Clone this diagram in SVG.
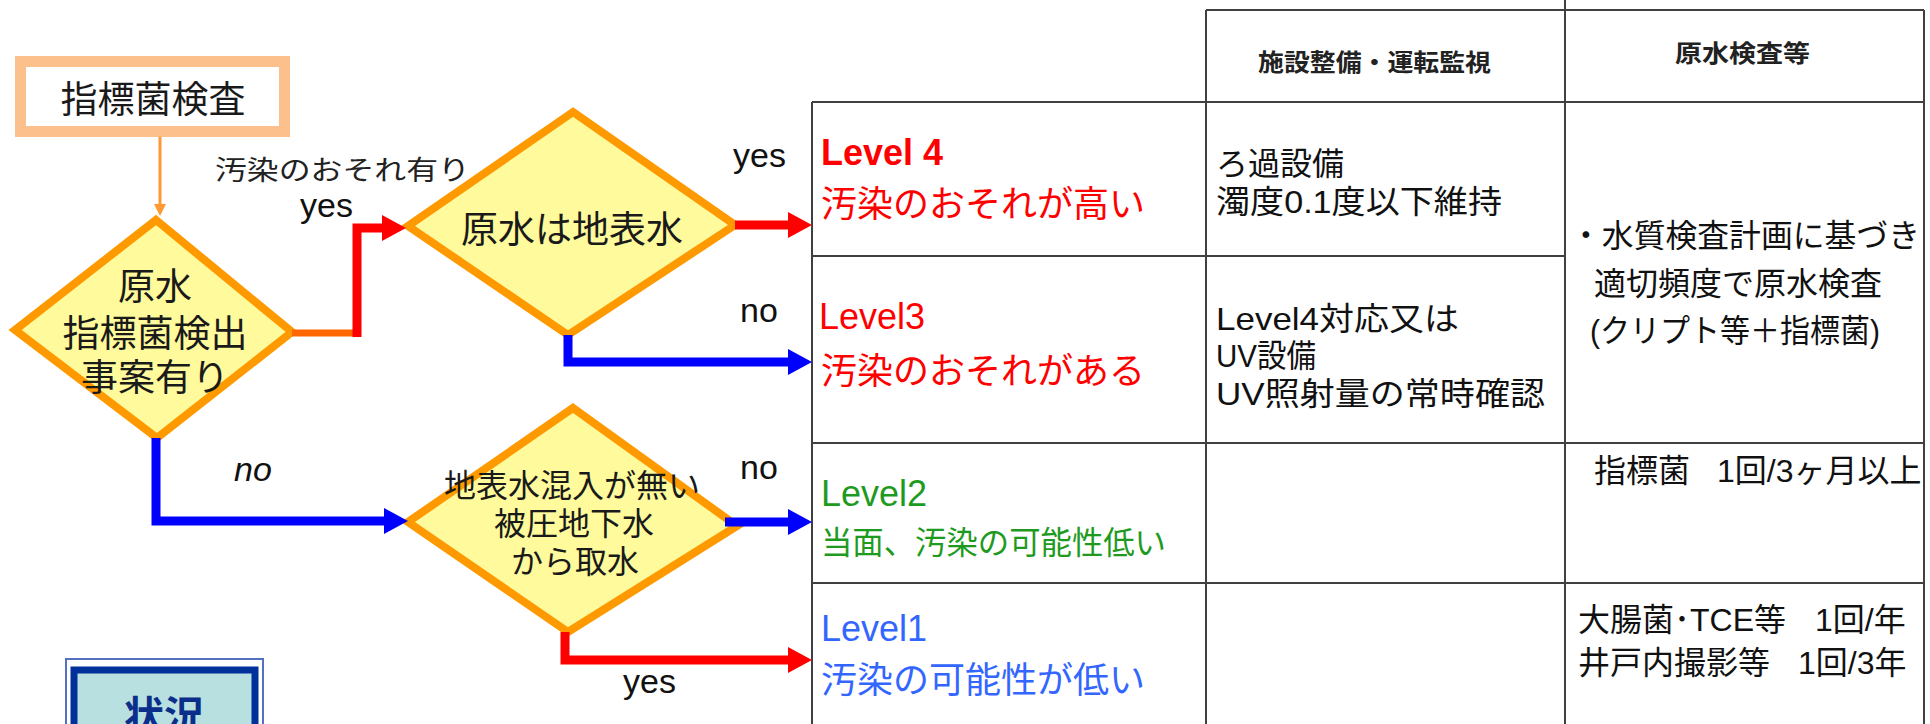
<svg xmlns="http://www.w3.org/2000/svg" width="1930" height="724" viewBox="0 0 1930 724">
<style>
  text { font-family: "Liberation Sans", "Noto Sans CJK JP", sans-serif; }
  .dia { fill: #FFFA9C; stroke: #FF9900; stroke-width: 8; stroke-linejoin: miter; }
  .dt { font-size: 37px; fill: #1a1a1a; text-anchor: middle; }
  .dt3 { font-size: 32px; fill: #1a1a1a; text-anchor: middle; }
  .lbl { font-size: 34px; fill: #111; }
  .grid { stroke: #404040; stroke-width: 2; fill: none; }
  .hd { font-size: 24px; font-weight: bold; fill: #222; }
  .cell { font-size: 32px; fill: #111; }
  .lv { font-size: 36px; }
  .red { fill: #FF0000; }
  .green { fill: #1E9B1E; }
  .blue { fill: #3366FF; }
  .cr { stroke: #FF0000; stroke-width: 9; fill: none; }
  .cb { stroke: #0000FF; stroke-width: 9; fill: none; }
</style>
<defs>
  <marker id="ar" markerUnits="userSpaceOnUse" markerWidth="24" markerHeight="26" refX="2" refY="13" orient="auto"><path d="M0,0 L24,13 L0,26 z" fill="#FF0000"/></marker>
  <marker id="ab" markerUnits="userSpaceOnUse" markerWidth="24" markerHeight="26" refX="2" refY="13" orient="auto"><path d="M0,0 L24,13 L0,26 z" fill="#0000FF"/></marker>
  <marker id="ao" markerUnits="userSpaceOnUse" markerWidth="12" markerHeight="12" refX="2" refY="6" orient="auto"><path d="M0,0 L12,6 L0,12 z" fill="#FF9933"/></marker>
</defs>

<g id="table">
  <path class="grid" d="M812,102 V724 M1206,10 V724 M1565,0 V724 M1924,10 V724 M1206,10 H1924 M812,102 H1924 M812,256 H1565 M812,443 H1924 M812,583 H1924"/>
  <text class="hd" x="1258" y="71" textLength="233" lengthAdjust="spacingAndGlyphs">施設整備・運転監視</text>
  <text class="hd" x="1675" y="62" textLength="135" lengthAdjust="spacingAndGlyphs">原水検査等</text>
</g>

<g id="level4">
  <text class="lv red" x="821" y="165" font-weight="bold">Level 4</text>
  <text class="lv red" x="821" y="217">汚染のおそれが高い</text>
</g>
<g id="level3">
  <text class="lv red" x="819" y="329">Level3</text>
  <text class="lv red" x="821" y="384">汚染のおそれがある</text>
</g>
<g id="level2">
  <text class="lv green" x="821" y="506">Level2</text>
  <text class="green" font-size="32" x="821" y="554" textLength="345" lengthAdjust="spacingAndGlyphs">当面、汚染の可能性低い</text>
</g>
<g id="level1">
  <text class="lv blue" x="821" y="641">Level1</text>
  <text class="lv blue" x="821" y="693">汚染の可能性が低い</text>
</g>

<g id="facility">
  <text class="cell" x="1216" y="175">ろ過設備</text>
  <text class="cell" x="1216" y="213" textLength="286" lengthAdjust="spacingAndGlyphs">濁度0.1度以下維持</text>
  <text class="cell" x="1216" y="330" textLength="243" lengthAdjust="spacingAndGlyphs">Level4対応又は</text>
  <text class="cell" x="1216" y="367" textLength="100" lengthAdjust="spacingAndGlyphs">UV設備</text>
  <text class="cell" x="1216" y="405" textLength="329" lengthAdjust="spacingAndGlyphs">UV照射量の常時確認</text>
</g>

<g id="inspection">
  <text class="cell" x="1570" y="247" textLength="350" lengthAdjust="spacingAndGlyphs">・水質検査計画に基づき</text>
  <text class="cell" x="1594" y="295">適切頻度で原水検査</text>
  <text class="cell" x="1590" y="342" textLength="290" lengthAdjust="spacingAndGlyphs">(クリプト等＋指標菌)</text>
  <text class="cell" font-size="31" x="1594" y="482">指標菌<tspan x="1717">1回/3ヶ月以上</tspan></text>
  <text class="cell" font-size="31" x="1578" y="631">大腸菌･TCE等<tspan x="1815">1回/年</tspan></text>
  <text class="cell" font-size="31" x="1578" y="674">井戸内撮影等<tspan x="1798">1回/3年</tspan></text>
</g>

<g id="start">
  <rect x="20.5" y="61.5" width="264" height="70" fill="#FFFFFF" stroke="#FBC08C" stroke-width="11"/>
  <text x="153" y="113" font-size="37" fill="#1a1a1a" text-anchor="middle">指標菌検査</text>
</g>

<g id="d1">
  <polygon class="dia" points="156,220 292,332 157,438 15,330"/>
  <text class="dt" x="155" y="300">原水</text>
  <text class="dt" x="155" y="347">指標菌検出</text>
  <text class="dt" x="155" y="391">事案有り</text>
</g>

<g id="d2">
  <polygon class="dia" points="573,112 735,225 568,335 408,226"/>
  <text class="dt" x="572" y="243">原水は地表水</text>
</g>

<g id="d3">
  <polygon class="dia" points="573,408 737,526 568,632 408,522"/>
  <text class="dt3" x="572" y="497">地表水混入が無い</text>
  <text class="dt3" x="574" y="535">被圧地下水</text>
  <text class="dt3" x="575" y="573">から取水</text>
</g>

<g id="status">
  <rect x="66" y="659" width="197" height="100" fill="none" stroke="#5570C0" stroke-width="2"/>
  <rect x="74" y="670" width="181" height="100" fill="#B8E0E0" stroke="#00309A" stroke-width="7"/>
  <text x="164" y="730" font-size="40" font-weight="bold" fill="#0A2E8A" text-anchor="middle">状況</text>
</g>

<g id="connectors">
  <line x1="160" y1="137" x2="160" y2="206" stroke="#FF9933" stroke-width="3" marker-end="url(#ao)"/>
  <line x1="292" y1="333" x2="357" y2="333" stroke="#FF6600" stroke-width="7"/>
  <path class="cr" d="M357,337 V228 H384" marker-end="url(#ar)" stroke-width="9"/>
  <line class="cr" x1="735" y1="225" x2="790" y2="225" marker-end="url(#ar)"/>
  <path class="cb" d="M568,335 V362 H790" marker-end="url(#ab)"/>
  <path class="cb" d="M156,438 V521 H386" marker-end="url(#ab)"/>
  <line class="cb" x1="725" y1="522" x2="790" y2="522" marker-end="url(#ab)"/>
  <path class="cr" d="M565,632 V660 H790" marker-end="url(#ar)"/>
  <text x="215" y="180" font-size="27" fill="#222" textLength="255" lengthAdjust="spacingAndGlyphs">汚染のおそれ有り</text>
  <text class="lbl" x="300" y="217">yes</text>
  <text class="lbl" x="733" y="167">yes</text>
  <text class="lbl" x="740" y="322">no</text>
  <text class="lbl" x="234" y="481" font-style="italic">no</text>
  <text class="lbl" x="740" y="479">no</text>
  <text class="lbl" x="623" y="693">yes</text>
</g>
</svg>
